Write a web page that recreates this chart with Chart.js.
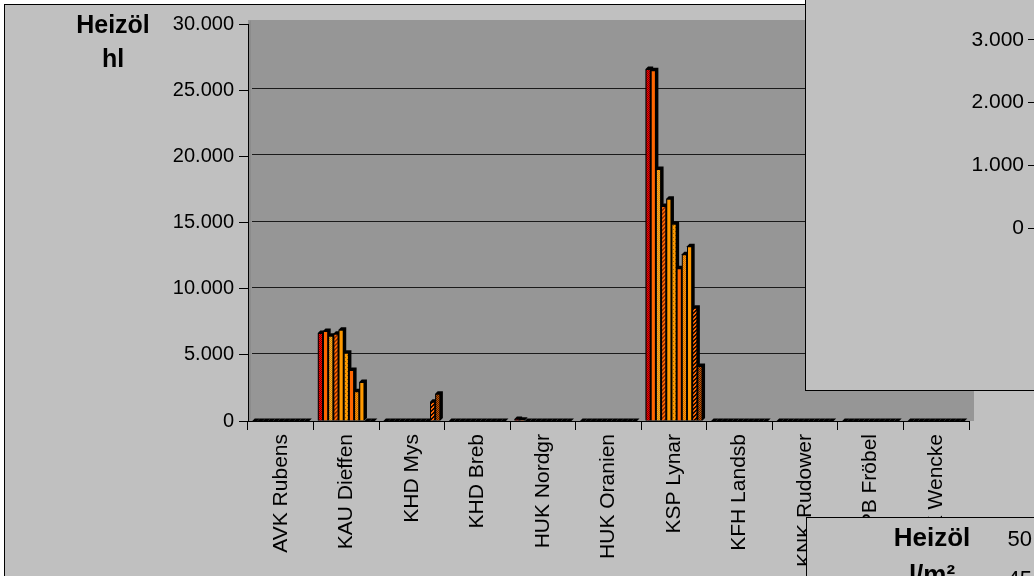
<!DOCTYPE html>
<html>
<head>
<meta charset="utf-8">
<script src="https://cdn.jsdelivr.net/npm/chart.js@4.4.1/dist/chart.umd.min.js"></script>
<style>
  html, body { margin: 0; padding: 0; width: 1034px; height: 576px; overflow: hidden; background: #ffffff; position: relative;
    font-family: "Liberation Sans", Arial, sans-serif; }
  .panel { position: absolute; background: #c0c0c0; box-sizing: border-box; overflow: hidden; }
  #mainPanel { left: 4px; top: 4px; width: 1100px; height: 700px; border-left: 1px solid #000; border-top: 1px solid #000; z-index: 1; }
  #mainWrap { position: absolute; left: 0; top: 0; width: 1034px; height: 576px; z-index: 2; }
  #mainTitle { position: absolute; left: 53px; top: 7px; width: 120px; text-align: center; font-weight: bold; font-size: 25px;
    line-height: 34px; color: #000; z-index: 2; }
  #oberPanel { left: 805px; top: -60px; width: 700px; height: 451px; border-left: 1px solid #000; border-bottom: 1px solid #000; z-index: 3; }
  #oberWrap { position: absolute; left: 0; top: 0; width: 699px; height: 450px; }
  #unterPanel { left: 806px; top: 517px; width: 400px; height: 200px; border-left: 1px solid #000; border-top: 1px solid #000; z-index: 4; }
  #unterWrap { position: absolute; left: 0; top: 0; width: 399px; height: 460px; }
  #unterTitle { position: absolute; left: 65px; top: 1px; width: 120px; text-align: center; font-weight: bold; font-size: 26px;
    line-height: 37px; color: #000; }
</style>
</head>
<body>
<div id="mainPanel" class="panel"></div>
<div id="mainWrap"><canvas id="mainChart"></canvas></div>
<div id="mainTitle">Heizöl<br>hl</div>
<div id="oberPanel" class="panel"><div id="oberWrap"><canvas id="oberChart"></canvas></div></div>
<div id="unterPanel" class="panel"><div id="unterWrap"><canvas id="unterChart"></canvas></div><div id="unterTitle">Heizöl<br>l/m²</div></div>

<script>
// Standorte (Kategorien der Rubrikenachse)
const standorte = ['AVK Rubens', 'KAU Dieffen', 'KHD Mys', 'KHD Breb', 'HUK Nordgr', 'HUK Oranien',
                   'KSP Lynar', 'KFH Landsb', 'KNK Rudower', 'KPB Fröbel', 'KJK Wencke'];

// Heizölverbrauch in hl, eine Reihe je Periode
const reihe1  = [0, 6650, 0,    0, 150, 0, 26600, 0, 0, 0, 0];
const reihe2  = [0, 6800, 0,    0, 100, 0, 26500, 0, 0, 0, 0];
const reihe3  = [0, 6450, 0,    0, 0,   0, 19050, 0, 0, 0, 0];
const reihe4  = [0, 6600, 0,    0, 0,   0, 16250, 0, 0, 0, 0];
const reihe5  = [0, 6900, 0,    0, 0,   0, 16800, 0, 0, 0, 0];
const reihe6  = [0, 5150, 0,    0, 0,   0, 14900, 0, 0, 0, 0];
const reihe7  = [0, 3850, 0,    0, 0,   0, 11550, 0, 0, 0, 0];
const reihe8  = [0, 2250, 0,    0, 0,   0, 12600, 0, 0, 0, 0];
const reihe9  = [0, 2950, 0,    0, 0,   0, 13200, 0, 0, 0, 0];
const reihe10 = [0, 0,    1450, 0, 0,   0, 8550,  0, 0, 0, 0];
const reihe11 = [0, 0,    2050, 0, 0,   0, 4150,  0, 0, 0, 0];
const reihenNamen = ['Reihe 1', 'Reihe 2', 'Reihe 3', 'Reihe 4', 'Reihe 5', 'Reihe 6',
                     'Reihe 7', 'Reihe 8', 'Reihe 9', 'Reihe 10', 'Reihe 11'];
const reihen = [reihe1, reihe2, reihe3, reihe4, reihe5, reihe6, reihe7, reihe8, reihe9, reihe10, reihe11];

// Achsenbereiche
const hlAchse   = { min: 0, max: 30000, step: 5000 };
const oberAchse = { min: 0, max: 4000,  step: 1000 };
const qmAchse   = { min: 0, max: 50,    step: 5 };

// Füllmuster der Reihen (Grund, Muster, Art)
const muster = [
  ['#ff0000', '#800000', 'checker'],
  ['#ff6600', null, 'solid'],
  ['#ff6600', '#cccc33', 'checker'],
  ['#ff6600', '#993300', 'diag'],
  ['#ff9900', null, 'solid'],
  ['#ff9900', '#996600', 'dots'],
  ['#ff6600', null, 'solid'],
  ['#ff9900', '#cc6600', 'checker'],
  ['#ff9900', null, 'solid'],
  ['#1a0a00', '#ff6600', 'diag'],
  ['#cc5500', '#552200', 'checker']
];

function makeFill(bg, fg, art) {
  if (art === 'solid') return bg;
  const c = document.createElement('canvas');
  c.width = 4; c.height = 4;
  const x = c.getContext('2d');
  x.fillStyle = bg; x.fillRect(0, 0, 4, 4);
  x.fillStyle = fg;
  if (art === 'checker') {
    x.fillRect(0, 0, 1, 1); x.fillRect(2, 0, 1, 1); x.fillRect(1, 1, 1, 1); x.fillRect(3, 1, 1, 1);
    x.fillRect(0, 2, 1, 1); x.fillRect(2, 2, 1, 1); x.fillRect(1, 3, 1, 1); x.fillRect(3, 3, 1, 1);
  } else if (art === 'diag') {
    for (let i = 0; i < 4; i++) { x.fillRect((3 - i + 4) % 4, i, 1, 1); x.fillRect((4 - i + 4) % 4, i, 1, 1); }
  } else if (art === 'dots') {
    x.fillRect(1, 1, 1, 1); x.fillRect(3, 3, 1, 1);
  }
  return x.createPattern(c, 'repeat');
}

const tausender = v => String(v).replace(/\B(?=(\d{3})+(?!\d))/g, '.');

// Rückwand mit Gitterlinien
const wandPlugin = {
  id: 'wand',
  beforeDraw(chart) {
    const { ctx, chartArea: a } = chart;
    const y = chart.scales.y;
    ctx.save();
    ctx.fillStyle = '#969696';
    ctx.fillRect(a.left, a.top - 4, a.right + 5 - a.left, a.bottom - a.top + 4);
    ctx.fillStyle = '#8c8c8c';
    ctx.beginPath();
    ctx.moveTo(a.left, a.top); ctx.lineTo(a.left + 3, a.top - 4);
    ctx.lineTo(a.left + 3, a.bottom - 2); ctx.lineTo(a.left, a.bottom);
    ctx.closePath(); ctx.fill();
    ctx.strokeStyle = '#1a1a1a'; ctx.lineWidth = 1;
    y.ticks.forEach(t => {
      if (t.value <= y.min || t.value >= y.max) return;
      const py = Math.round(y.getPixelForValue(t.value) - 2) + 0.5;
      ctx.beginPath(); ctx.moveTo(a.left + 4, py); ctx.lineTo(a.right + 5, py); ctx.stroke();
    });
    ctx.restore();
  }
};

// Säulentiefe (3D-Kante oben und rechts)
const tiefePlugin = {
  id: 'tiefe',
  beforeDatasetsDraw(chart) {
    const ctx = chart.ctx, d = 2.5;
    ctx.save();
    ctx.fillStyle = '#000';
    chart.data.datasets.forEach((ds, i) => {
      chart.getDatasetMeta(i).data.forEach(bar => {
        const { x, y, base, width } = bar.getProps(['x', 'y', 'base', 'width'], true);
        const l = x - width / 2, r = x + width / 2;
        ctx.beginPath();
        ctx.moveTo(l, y); ctx.lineTo(l + d, y - d); ctx.lineTo(r + d, y - d);
        ctx.lineTo(r + d, base - d); ctx.lineTo(r, base); ctx.lineTo(l, base);
        ctx.closePath(); ctx.fill();
      });
    });
    ctx.restore();
  }
};

new Chart(document.getElementById('mainChart'), {
  type: 'bar',
  data: {
    labels: standorte,
    datasets: reihen.map((werte, i) => ({
      label: reihenNamen[i],
      data: werte,
      backgroundColor: makeFill(muster[i][0], muster[i][1], muster[i][2]),
      borderColor: '#000',
      borderWidth: 1,
      borderSkipped: 'start',
      categoryPercentage: 0.87,
      barPercentage: 1.0
    }))
  },
  options: {
    responsive: true,
    maintainAspectRatio: false,
    animation: false,
    layout: { padding: { left: 0, top: 24, right: 65, bottom: 0 } },
    plugins: { legend: { display: false }, tooltip: { enabled: false } },
    scales: {
      x: {
        afterFit: s => { s.height = 155; },
        grid: { display: true, drawOnChartArea: false, drawTicks: true, tickLength: 9, color: '#000', offset: true },
        border: { display: true, color: '#000', width: 1 },
        ticks: { autoSkip: false, minRotation: 90, maxRotation: 90, padding: 4, color: '#000',
                 font: { family: '"Liberation Sans", Arial, sans-serif', size: 21 } }
      },
      y: {
        min: hlAchse.min, max: hlAchse.max,
        afterFit: s => { s.width = 248; },
        grid: { display: true, drawOnChartArea: false, drawTicks: true, tickLength: 9, color: '#000' },
        border: { display: true, color: '#000', width: 1 },
        ticks: { stepSize: hlAchse.step, padding: 5, color: '#000', callback: tausender,
                 font: { family: '"Liberation Sans", Arial, sans-serif', size: 20 } }
      }
    }
  },
  plugins: [wandPlugin, tiefePlugin]
});

// Nachbardiagramm oben rechts
new Chart(document.getElementById('oberChart'), {
  type: 'bar',
  data: { labels: standorte, datasets: [] },
  options: {
    responsive: true, maintainAspectRatio: false, animation: false,
    layout: { padding: { left: 0, top: 37, right: 0, bottom: 162 } },
    plugins: { legend: { display: false }, tooltip: { enabled: false } },
    scales: {
      x: { display: false },
      y: {
        min: oberAchse.min, max: oberAchse.max,
        afterFit: s => { s.width = 230; },
        grid: { display: true, drawOnChartArea: false, drawTicks: true, tickLength: 8, color: '#000' },
        border: { display: true, color: '#000' },
        ticks: { stepSize: oberAchse.step, padding: 4, color: '#000', callback: tausender,
                 font: { family: '"Liberation Sans", Arial, sans-serif', size: 21 } }
      }
    }
  }
});

// Nachbardiagramm unten rechts (l/m²)
new Chart(document.getElementById('unterChart'), {
  type: 'bar',
  data: { labels: standorte, datasets: [] },
  options: {
    responsive: true, maintainAspectRatio: false, animation: false,
    layout: { padding: { left: 0, top: 21.5, right: 0, bottom: 38.5 } },
    plugins: { legend: { display: false }, tooltip: { enabled: false } },
    scales: {
      x: { display: false },
      y: {
        min: qmAchse.min, max: qmAchse.max,
        afterFit: s => { s.width = 239; },
        grid: { display: true, drawOnChartArea: false, drawTicks: true, tickLength: 8, color: '#000' },
        border: { display: true, color: '#000' },
        ticks: { stepSize: qmAchse.step, padding: 6, color: '#000',
                 font: { family: '"Liberation Sans", Arial, sans-serif', size: 22 } }
      }
    }
  }
});
</script>
</body>
</html>
